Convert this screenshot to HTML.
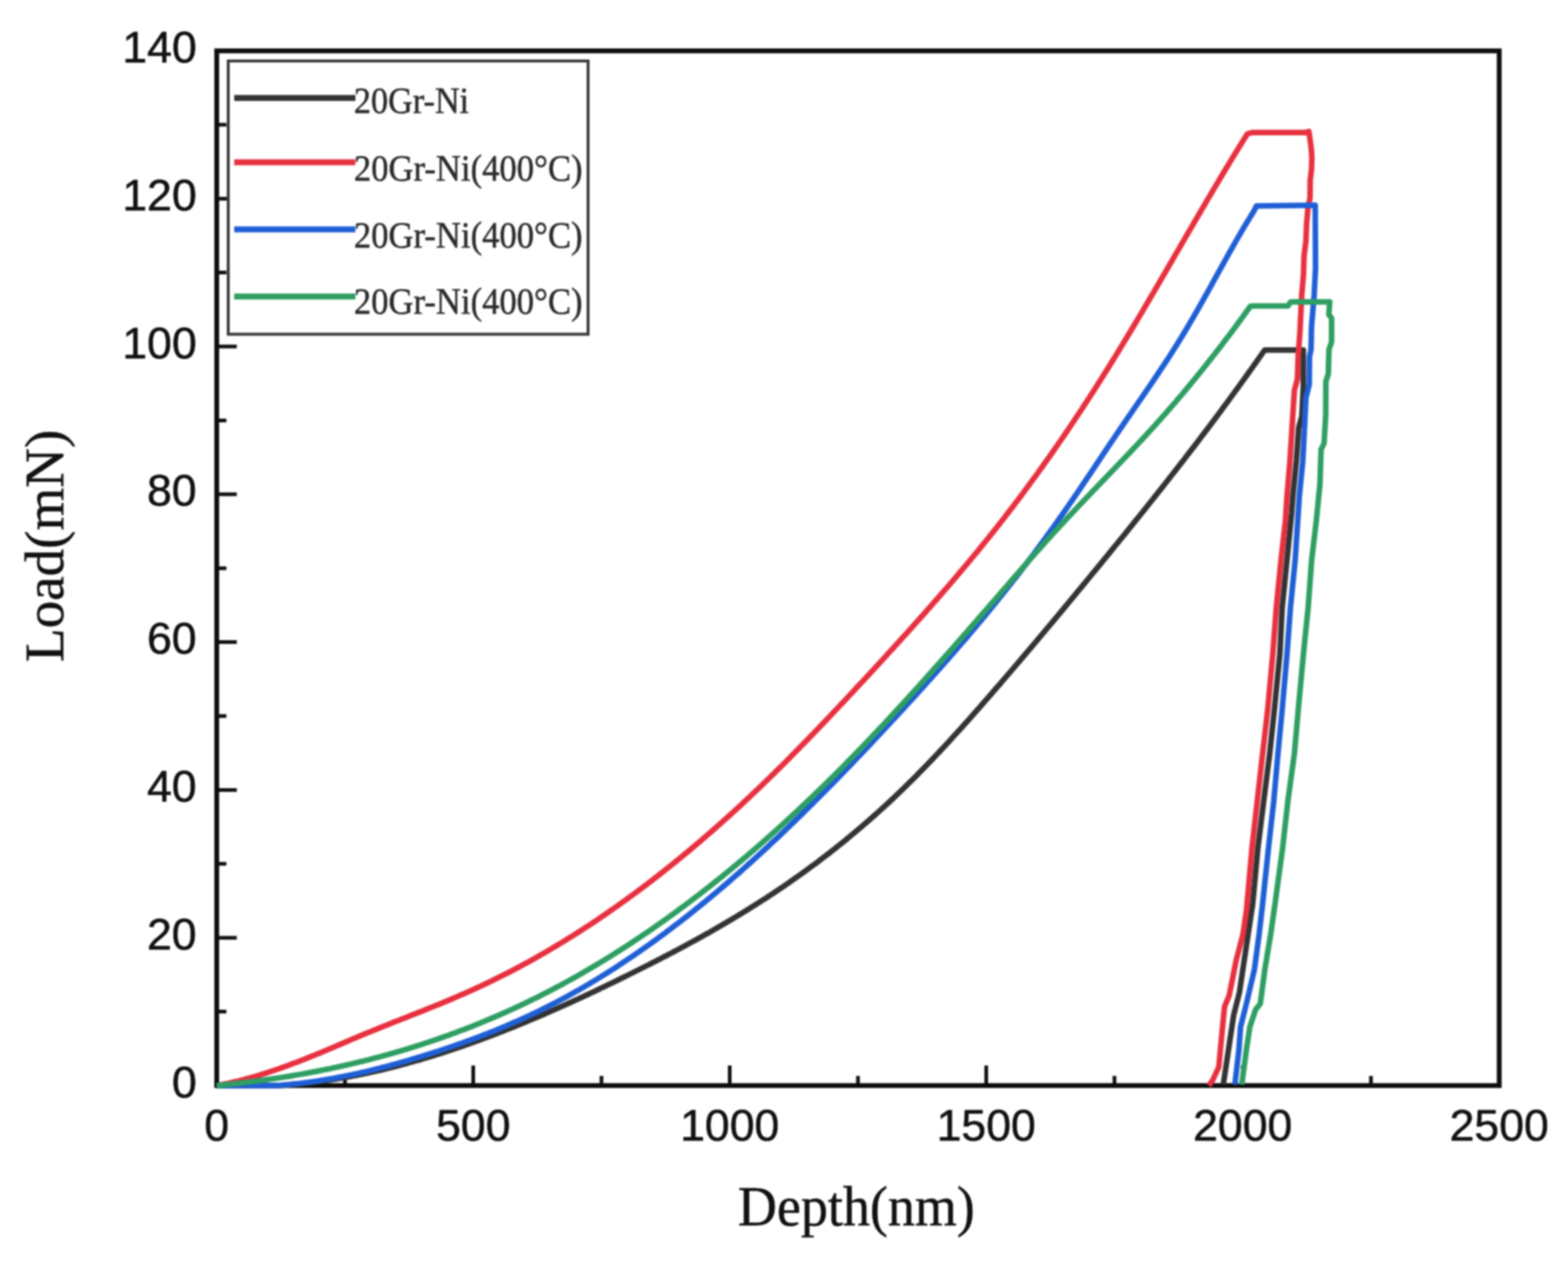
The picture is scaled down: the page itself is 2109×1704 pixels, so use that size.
<!DOCTYPE html>
<html><head><meta charset="utf-8"><title>Load-Depth</title>
<style>html,body{margin:0;padding:0;background:#fff;}svg{display:block;filter:blur(0.8px);}</style>
</head><body>
<svg width="2109" height="1704" viewBox="0 0 2109 1704">
<rect x="0" y="0" width="2109" height="1704" fill="#ffffff"/>
<path d="M464.0 1460.0 V1447.0 M636.5 1460.0 V1433.0 M809.0 1460.0 V1447.0 M981.5 1460.0 V1433.0 M1154.0 1460.0 V1447.0 M1326.5 1460.0 V1433.0 M1499.0 1460.0 V1447.0 M1671.5 1460.0 V1433.0 M1844.0 1460.0 V1447.0 M291.5 1360.6 H304.5 M291.5 1261.2 H318.5 M291.5 1161.8 H304.5 M291.5 1062.4 H318.5 M291.5 963.0 H304.5 M291.5 863.6 H318.5 M291.5 764.2 H304.5 M291.5 664.8 H318.5 M291.5 565.4 H304.5 M291.5 466.0 H318.5 M291.5 366.6 H304.5 M291.5 267.2 H318.5 M291.5 167.8 H304.5" stroke="#111" stroke-width="5" fill="none"/>
<rect x="291.5" y="68.4" width="1725.0" height="1391.6" fill="none" stroke="#0d0d0d" stroke-width="6.5"/>
<path d="M291.5 1460.0 L294.5 1460.0 L297.5 1460.0 L300.5 1460.0 L303.5 1460.0 L306.5 1460.0 L309.5 1460.0 L312.5 1460.0 L315.5 1460.0 L318.5 1460.0 L321.5 1460.0 L324.5 1460.0 L327.5 1460.0 L330.5 1460.0 L333.5 1460.0 L336.5 1460.0 L339.5 1460.0 L342.5 1460.0 L345.5 1460.0 L348.5 1460.0 L351.5 1460.0 L354.5 1460.0 L357.5 1460.0 L360.5 1460.0 L363.5 1460.0 L366.5 1460.0 L369.5 1460.0 L372.5 1460.0 L375.5 1459.9 L378.5 1459.7 L381.5 1459.5 L384.5 1459.3 L387.5 1459.0 L390.5 1458.8 L393.5 1458.5 L396.5 1458.3 L399.5 1458.0 L402.5 1457.7 L405.5 1457.4 L408.5 1457.1 L411.5 1456.7 L414.5 1456.4 L417.5 1456.0 L420.5 1455.7 L423.5 1455.3 L426.5 1454.9 L429.5 1454.5 L432.5 1454.1 L435.5 1453.7 L438.5 1453.2 L441.5 1452.8 L444.5 1452.3 L447.5 1451.9 L450.5 1451.4 L453.5 1450.9 L456.5 1450.4 L459.5 1449.9 L462.5 1449.3 L465.5 1448.8 L468.5 1448.3 L471.5 1447.7 L474.5 1447.1 L477.5 1446.6 L480.5 1446.0 L483.5 1445.4 L486.5 1444.8 L489.5 1444.1 L492.5 1443.5 L495.5 1442.9 L498.5 1442.2 L501.5 1441.5 L504.5 1440.9 L507.5 1440.2 L510.5 1439.5 L513.5 1438.8 L516.5 1438.1 L519.5 1437.3 L522.5 1436.6 L525.5 1435.9 L528.5 1435.1 L531.5 1434.3 L534.5 1433.6 L537.5 1432.8 L540.5 1432.0 L543.5 1431.2 L546.5 1430.4 L549.5 1429.5 L552.5 1428.7 L555.5 1427.9 L558.5 1427.0 L561.5 1426.2 L564.5 1425.3 L567.5 1424.4 L570.5 1423.5 L573.5 1422.6 L576.5 1421.7 L579.5 1420.8 L582.5 1419.9 L585.5 1418.9 L588.5 1418.0 L591.5 1417.1 L594.5 1416.1 L597.5 1415.1 L600.5 1414.2 L603.5 1413.2 L606.5 1412.2 L609.5 1411.2 L612.5 1410.2 L615.5 1409.2 L618.5 1408.1 L621.5 1407.1 L624.5 1406.1 L627.5 1405.0 L630.5 1404.0 L633.5 1402.9 L636.5 1401.8 L639.5 1400.7 L642.5 1399.6 L645.5 1398.6 L648.5 1397.4 L651.5 1396.3 L654.5 1395.2 L657.5 1394.1 L660.5 1393.0 L663.5 1391.8 L666.5 1390.7 L669.5 1389.5 L672.5 1388.3 L675.5 1387.2 L678.5 1386.0 L681.5 1384.8 L684.5 1383.6 L687.5 1382.4 L690.5 1381.2 L693.5 1380.0 L696.5 1378.8 L699.5 1377.6 L702.5 1376.3 L705.5 1375.1 L708.5 1373.9 L711.5 1372.6 L714.5 1371.3 L717.5 1370.1 L720.5 1368.8 L723.5 1367.5 L726.5 1366.3 L729.5 1365.0 L732.5 1363.7 L735.5 1362.4 L738.5 1361.1 L741.5 1359.7 L744.5 1358.4 L747.5 1357.1 L750.5 1355.8 L753.5 1354.4 L756.5 1353.1 L759.5 1351.7 L762.5 1350.4 L765.5 1349.0 L768.5 1347.7 L771.5 1346.3 L774.5 1344.9 L777.5 1343.6 L780.5 1342.2 L783.5 1340.8 L786.5 1339.4 L789.5 1338.0 L792.5 1336.6 L795.5 1335.2 L798.5 1333.8 L801.5 1332.3 L804.5 1330.9 L807.5 1329.5 L810.5 1328.0 L813.5 1326.6 L816.5 1325.2 L819.5 1323.7 L822.5 1322.3 L825.5 1320.8 L828.5 1319.4 L831.5 1317.9 L834.5 1316.4 L837.5 1314.9 L840.5 1313.5 L843.5 1312.0 L846.5 1310.5 L849.5 1309.0 L852.5 1307.5 L855.5 1306.0 L858.5 1304.5 L861.5 1303.0 L864.5 1301.5 L867.5 1300.0 L870.5 1298.5 L873.5 1297.0 L876.5 1295.4 L879.5 1293.9 L882.5 1292.4 L885.5 1290.8 L888.5 1289.3 L891.5 1287.7 L894.5 1286.2 L897.5 1284.6 L900.5 1283.0 L903.5 1281.5 L906.5 1279.9 L909.5 1278.3 L912.5 1276.7 L915.5 1275.1 L918.5 1273.5 L921.5 1271.9 L924.5 1270.3 L927.5 1268.6 L930.5 1267.0 L933.5 1265.4 L936.5 1263.7 L939.5 1262.1 L942.5 1260.4 L945.5 1258.7 L948.5 1257.0 L951.5 1255.4 L954.5 1253.7 L957.5 1252.0 L960.5 1250.2 L963.5 1248.5 L966.5 1246.8 L969.5 1245.1 L972.5 1243.3 L975.5 1241.6 L978.5 1239.8 L981.5 1238.0 L984.5 1236.2 L987.5 1234.4 L990.5 1232.6 L993.5 1230.8 L996.5 1229.0 L999.5 1227.2 L1002.5 1225.3 L1005.5 1223.5 L1008.5 1221.6 L1011.5 1219.7 L1014.5 1217.8 L1017.5 1216.0 L1020.5 1214.0 L1023.5 1212.1 L1026.5 1210.2 L1029.5 1208.3 L1032.5 1206.3 L1035.5 1204.3 L1038.5 1202.4 L1041.5 1200.4 L1044.5 1198.4 L1047.5 1196.4 L1050.5 1194.3 L1053.5 1192.3 L1056.5 1190.3 L1059.5 1188.2 L1062.5 1186.1 L1065.5 1184.0 L1068.5 1181.9 L1071.5 1179.8 L1074.5 1177.7 L1077.5 1175.5 L1080.5 1173.4 L1083.5 1171.2 L1086.5 1169.0 L1089.5 1166.8 L1092.5 1164.6 L1095.5 1162.4 L1098.5 1160.2 L1101.5 1157.9 L1104.5 1155.6 L1107.5 1153.3 L1110.5 1151.0 L1113.5 1148.7 L1116.5 1146.4 L1119.5 1144.1 L1122.5 1141.7 L1125.5 1139.3 L1128.5 1136.9 L1131.5 1134.5 L1134.5 1132.1 L1137.5 1129.7 L1140.5 1127.2 L1143.5 1124.7 L1146.5 1122.2 L1149.5 1119.7 L1152.5 1117.2 L1155.5 1114.7 L1158.5 1112.1 L1161.5 1109.5 L1164.5 1106.9 L1167.5 1104.3 L1170.5 1101.7 L1173.5 1099.1 L1176.5 1096.4 L1179.5 1093.7 L1182.5 1091.0 L1185.5 1088.3 L1188.5 1085.6 L1191.5 1082.8 L1194.5 1080.1 L1197.5 1077.3 L1200.5 1074.5 L1203.5 1071.6 L1206.5 1068.8 L1209.5 1065.9 L1212.5 1063.0 L1215.5 1060.1 L1218.5 1057.2 L1221.5 1054.2 L1224.5 1051.3 L1227.5 1048.3 L1230.5 1045.3 L1233.5 1042.3 L1236.5 1039.2 L1239.5 1036.2 L1242.5 1033.1 L1245.5 1030.0 L1248.5 1026.9 L1251.5 1023.8 L1254.5 1020.6 L1257.5 1017.5 L1260.5 1014.3 L1263.5 1011.1 L1266.5 1007.9 L1269.5 1004.7 L1272.5 1001.4 L1275.5 998.2 L1278.5 994.9 L1281.5 991.6 L1284.5 988.3 L1287.5 985.0 L1290.5 981.7 L1293.5 978.4 L1296.5 975.1 L1299.5 971.7 L1302.5 968.4 L1305.5 965.0 L1308.5 961.6 L1311.5 958.2 L1314.5 954.8 L1317.5 951.4 L1320.5 948.0 L1323.5 944.6 L1326.5 941.1 L1329.5 937.7 L1332.5 934.2 L1335.5 930.8 L1338.5 927.3 L1341.5 923.8 L1344.5 920.4 L1347.5 916.9 L1350.5 913.4 L1353.5 909.9 L1356.5 906.4 L1359.5 902.9 L1362.5 899.4 L1365.5 895.9 L1368.5 892.4 L1371.5 888.8 L1374.5 885.3 L1377.5 881.8 L1380.5 878.3 L1383.5 874.7 L1386.5 871.2 L1389.5 867.6 L1392.5 864.1 L1395.5 860.5 L1398.5 856.9 L1401.5 853.4 L1404.5 849.8 L1407.5 846.2 L1410.5 842.6 L1413.5 839.1 L1416.5 835.5 L1419.5 831.9 L1422.5 828.3 L1425.5 824.7 L1428.5 821.1 L1431.5 817.5 L1434.5 813.8 L1437.5 810.2 L1440.5 806.6 L1443.5 803.0 L1446.5 799.4 L1449.5 795.7 L1452.5 792.1 L1455.5 788.5 L1458.5 784.8 L1461.5 781.2 L1464.5 777.5 L1467.5 773.9 L1470.5 770.2 L1473.5 766.6 L1476.5 762.9 L1479.5 759.3 L1482.5 755.6 L1485.5 751.9 L1488.5 748.3 L1491.5 744.6 L1494.5 740.9 L1497.5 737.2 L1500.5 733.5 L1503.5 729.9 L1506.5 726.2 L1509.5 722.5 L1512.5 718.8 L1515.5 715.1 L1518.5 711.4 L1521.5 707.6 L1524.5 703.9 L1527.5 700.2 L1530.5 696.5 L1533.5 692.7 L1536.5 689.0 L1539.5 685.3 L1542.5 681.5 L1545.5 677.7 L1548.5 674.0 L1551.5 670.2 L1554.5 666.4 L1557.5 662.7 L1560.5 658.9 L1563.5 655.1 L1566.5 651.3 L1569.5 647.5 L1572.5 643.6 L1575.5 639.8 L1578.5 636.0 L1581.5 632.1 L1584.5 628.3 L1587.5 624.4 L1590.5 620.6 L1593.5 616.7 L1596.5 612.8 L1599.5 608.9 L1602.5 605.0 L1605.5 601.1 L1608.5 597.2 L1611.5 593.2 L1614.5 589.3 L1617.5 585.3 L1620.5 581.4 L1623.5 577.4 L1626.5 573.4 L1629.5 569.4 L1632.5 565.4 L1635.5 561.4 L1638.5 557.4 L1641.5 553.4 L1644.5 549.3 L1647.5 545.3 L1650.5 541.2 L1653.5 537.1 L1656.5 533.0 L1659.5 528.9 L1662.5 524.8 L1665.5 520.7 L1668.5 516.5 L1671.5 512.4 L1674.5 508.2 L1677.5 504.0 L1680.5 499.8 L1683.5 495.6 L1686.5 491.4 L1689.5 487.2 L1692.5 482.9 L1695.5 478.6 L1698.5 474.4 L1701.0 470.8 L1753.0 470.8 L1753.0 520.0 L1751.0 560.0 L1746.8 575.0 L1743.6 620.0 L1738.9 667.7 L1737.3 690.0 L1731.0 753.4 L1724.6 816.8 L1721.4 880.2 L1714.0 955.0 L1707.8 1013.4 L1699.8 1076.8 L1691.9 1140.2 L1685.0 1215.0 L1676.4 1272.2 L1667.1 1334.4 L1659.3 1365.5 L1654.6 1396.6 L1650.0 1427.7 L1645.3 1458.8" stroke="#333333" stroke-width="7.5" fill="none" stroke-linejoin="round" stroke-linecap="butt"/>
<path d="M291.5 1460.0 L294.5 1459.5 L297.5 1458.9 L300.5 1458.3 L303.5 1457.7 L306.5 1457.1 L309.5 1456.4 L312.5 1455.7 L315.5 1455.0 L318.5 1454.3 L321.5 1453.6 L324.5 1452.8 L327.5 1452.0 L330.5 1451.2 L333.5 1450.4 L336.5 1449.6 L339.5 1448.7 L342.5 1447.9 L345.5 1447.0 L348.5 1446.1 L351.5 1445.1 L354.5 1444.2 L357.5 1443.2 L360.5 1442.3 L363.5 1441.3 L366.5 1440.3 L369.5 1439.3 L372.5 1438.2 L375.5 1437.2 L378.5 1436.1 L381.5 1435.1 L384.5 1434.0 L387.5 1432.9 L390.5 1431.8 L393.5 1430.6 L396.5 1429.5 L399.5 1428.4 L402.5 1427.2 L405.5 1426.0 L408.5 1424.9 L411.5 1423.7 L414.5 1422.5 L417.5 1421.3 L420.5 1420.1 L423.5 1418.9 L426.5 1417.6 L429.5 1416.4 L432.5 1415.2 L435.5 1413.9 L438.5 1412.7 L441.5 1411.4 L444.5 1410.1 L447.5 1408.9 L450.5 1407.6 L453.5 1406.3 L456.5 1405.0 L459.5 1403.7 L462.5 1402.5 L465.5 1401.2 L468.5 1399.9 L471.5 1398.6 L474.5 1397.3 L477.5 1396.1 L480.5 1394.8 L483.5 1393.5 L486.5 1392.3 L489.5 1391.0 L492.5 1389.8 L495.5 1388.6 L498.5 1387.4 L501.5 1386.1 L504.5 1384.9 L507.5 1383.7 L510.5 1382.5 L513.5 1381.3 L516.5 1380.1 L519.5 1378.9 L522.5 1377.7 L525.5 1376.5 L528.5 1375.3 L531.5 1374.1 L534.5 1372.9 L537.5 1371.8 L540.5 1370.6 L543.5 1369.4 L546.5 1368.2 L549.5 1367.0 L552.5 1365.8 L555.5 1364.6 L558.5 1363.5 L561.5 1362.3 L564.5 1361.1 L567.5 1359.9 L570.5 1358.7 L573.5 1357.5 L576.5 1356.3 L579.5 1355.1 L582.5 1353.9 L585.5 1352.6 L588.5 1351.4 L591.5 1350.2 L594.5 1349.0 L597.5 1347.7 L600.5 1346.5 L603.5 1345.2 L606.5 1344.0 L609.5 1342.7 L612.5 1341.4 L615.5 1340.1 L618.5 1338.8 L621.5 1337.5 L624.5 1336.2 L627.5 1334.9 L630.5 1333.6 L633.5 1332.2 L636.5 1330.9 L639.5 1329.5 L642.5 1328.1 L645.5 1326.7 L648.5 1325.4 L651.5 1323.9 L654.5 1322.5 L657.5 1321.1 L660.5 1319.6 L663.5 1318.2 L666.5 1316.7 L669.5 1315.2 L672.5 1313.7 L675.5 1312.2 L678.5 1310.7 L681.5 1309.2 L684.5 1307.6 L687.5 1306.1 L690.5 1304.5 L693.5 1302.9 L696.5 1301.4 L699.5 1299.8 L702.5 1298.1 L705.5 1296.5 L708.5 1294.9 L711.5 1293.2 L714.5 1291.6 L717.5 1289.9 L720.5 1288.2 L723.5 1286.5 L726.5 1284.8 L729.5 1283.1 L732.5 1281.4 L735.5 1279.6 L738.5 1277.9 L741.5 1276.1 L744.5 1274.3 L747.5 1272.5 L750.5 1270.7 L753.5 1268.9 L756.5 1267.1 L759.5 1265.3 L762.5 1263.4 L765.5 1261.5 L768.5 1259.7 L771.5 1257.8 L774.5 1255.9 L777.5 1254.0 L780.5 1252.1 L783.5 1250.1 L786.5 1248.2 L789.5 1246.2 L792.5 1244.3 L795.5 1242.3 L798.5 1240.3 L801.5 1238.3 L804.5 1236.3 L807.5 1234.2 L810.5 1232.2 L813.5 1230.2 L816.5 1228.1 L819.5 1226.0 L822.5 1223.9 L825.5 1221.8 L828.5 1219.7 L831.5 1217.6 L834.5 1215.5 L837.5 1213.3 L840.5 1211.2 L843.5 1209.0 L846.5 1206.8 L849.5 1204.6 L852.5 1202.4 L855.5 1200.2 L858.5 1198.0 L861.5 1195.7 L864.5 1193.5 L867.5 1191.2 L870.5 1188.9 L873.5 1186.7 L876.5 1184.4 L879.5 1182.0 L882.5 1179.7 L885.5 1177.4 L888.5 1175.0 L891.5 1172.7 L894.5 1170.3 L897.5 1167.9 L900.5 1165.5 L903.5 1163.1 L906.5 1160.7 L909.5 1158.3 L912.5 1155.8 L915.5 1153.4 L918.5 1150.9 L921.5 1148.4 L924.5 1146.0 L927.5 1143.5 L930.5 1140.9 L933.5 1138.4 L936.5 1135.9 L939.5 1133.3 L942.5 1130.8 L945.5 1128.2 L948.5 1125.6 L951.5 1123.0 L954.5 1120.4 L957.5 1117.8 L960.5 1115.2 L963.5 1112.5 L966.5 1109.9 L969.5 1107.2 L972.5 1104.5 L975.5 1101.8 L978.5 1099.1 L981.5 1096.4 L984.5 1093.7 L987.5 1091.0 L990.5 1088.2 L993.5 1085.5 L996.5 1082.7 L999.5 1079.9 L1002.5 1077.1 L1005.5 1074.3 L1008.5 1071.5 L1011.5 1068.6 L1014.5 1065.8 L1017.5 1063.0 L1020.5 1060.1 L1023.5 1057.2 L1026.5 1054.3 L1029.5 1051.4 L1032.5 1048.5 L1035.5 1045.6 L1038.5 1042.6 L1041.5 1039.7 L1044.5 1036.7 L1047.5 1033.8 L1050.5 1030.8 L1053.5 1027.8 L1056.5 1024.8 L1059.5 1021.8 L1062.5 1018.8 L1065.5 1015.7 L1068.5 1012.7 L1071.5 1009.7 L1074.5 1006.6 L1077.5 1003.5 L1080.5 1000.5 L1083.5 997.4 L1086.5 994.3 L1089.5 991.2 L1092.5 988.1 L1095.5 985.0 L1098.5 981.9 L1101.5 978.7 L1104.5 975.6 L1107.5 972.4 L1110.5 969.3 L1113.5 966.1 L1116.5 963.0 L1119.5 959.8 L1122.5 956.6 L1125.5 953.5 L1128.5 950.3 L1131.5 947.1 L1134.5 943.9 L1137.5 940.7 L1140.5 937.5 L1143.5 934.3 L1146.5 931.1 L1149.5 927.9 L1152.5 924.6 L1155.5 921.4 L1158.5 918.2 L1161.5 914.9 L1164.5 911.7 L1167.5 908.5 L1170.5 905.2 L1173.5 902.0 L1176.5 898.7 L1179.5 895.5 L1182.5 892.2 L1185.5 888.9 L1188.5 885.7 L1191.5 882.4 L1194.5 879.1 L1197.5 875.8 L1200.5 872.6 L1203.5 869.3 L1206.5 866.0 L1209.5 862.7 L1212.5 859.3 L1215.5 856.0 L1218.5 852.7 L1221.5 849.4 L1224.5 846.0 L1227.5 842.7 L1230.5 839.3 L1233.5 836.0 L1236.5 832.6 L1239.5 829.2 L1242.5 825.9 L1245.5 822.5 L1248.5 819.1 L1251.5 815.7 L1254.5 812.3 L1257.5 808.8 L1260.5 805.4 L1263.5 802.0 L1266.5 798.5 L1269.5 795.1 L1272.5 791.6 L1275.5 788.1 L1278.5 784.6 L1281.5 781.1 L1284.5 777.6 L1287.5 774.1 L1290.5 770.5 L1293.5 767.0 L1296.5 763.4 L1299.5 759.9 L1302.5 756.3 L1305.5 752.7 L1308.5 749.0 L1311.5 745.4 L1314.5 741.8 L1317.5 738.1 L1320.5 734.4 L1323.5 730.7 L1326.5 727.0 L1329.5 723.3 L1332.5 719.5 L1335.5 715.8 L1338.5 712.0 L1341.5 708.2 L1344.5 704.4 L1347.5 700.5 L1350.5 696.7 L1353.5 692.8 L1356.5 688.9 L1359.5 685.0 L1362.5 681.1 L1365.5 677.1 L1368.5 673.2 L1371.5 669.2 L1374.5 665.2 L1377.5 661.1 L1380.5 657.1 L1383.5 653.0 L1386.5 648.9 L1389.5 644.8 L1392.5 640.7 L1395.5 636.6 L1398.5 632.4 L1401.5 628.2 L1404.5 624.0 L1407.5 619.8 L1410.5 615.6 L1413.5 611.3 L1416.5 607.0 L1419.5 602.7 L1422.5 598.4 L1425.5 594.0 L1428.5 589.7 L1431.5 585.3 L1434.5 580.9 L1437.5 576.5 L1440.5 572.0 L1443.5 567.5 L1446.5 563.0 L1449.5 558.5 L1452.5 554.0 L1455.5 549.5 L1458.5 544.9 L1461.5 540.3 L1464.5 535.7 L1467.5 531.0 L1470.5 526.4 L1473.5 521.7 L1476.5 517.0 L1479.5 512.3 L1482.5 507.5 L1485.5 502.8 L1488.5 498.0 L1491.5 493.2 L1494.5 488.3 L1497.5 483.5 L1500.5 478.6 L1503.5 473.7 L1506.5 468.8 L1509.5 463.9 L1512.5 458.9 L1515.5 454.0 L1518.5 449.0 L1521.5 444.0 L1524.5 439.0 L1527.5 434.0 L1530.5 428.9 L1533.5 423.9 L1536.5 418.8 L1539.5 413.7 L1542.5 408.6 L1545.5 403.5 L1548.5 398.4 L1551.5 393.3 L1554.5 388.2 L1557.5 383.0 L1560.5 377.9 L1563.5 372.7 L1566.5 367.6 L1569.5 362.4 L1572.5 357.2 L1575.5 352.1 L1578.5 346.9 L1581.5 341.7 L1584.5 336.6 L1587.5 331.4 L1590.5 326.2 L1593.5 321.0 L1596.5 315.9 L1599.5 310.7 L1602.5 305.6 L1605.5 300.4 L1608.5 295.3 L1611.5 290.1 L1614.5 285.0 L1617.5 279.9 L1620.5 274.8 L1623.5 269.7 L1626.5 264.6 L1629.5 259.5 L1632.5 254.4 L1635.5 249.4 L1638.5 244.3 L1641.5 239.3 L1644.5 234.3 L1647.5 229.3 L1650.5 224.3 L1653.5 219.4 L1656.5 214.4 L1659.5 209.5 L1662.5 204.6 L1665.5 199.7 L1668.5 194.9 L1671.5 190.1 L1674.5 185.3 L1677.5 180.5 L1677.8 180.0 L1684.0 178.3 L1755.0 178.3 L1760.5 176.8 L1761.8 186.0 L1763.5 198.0 L1764.5 212.0 L1764.0 228.0 L1762.3 242.0 L1762.0 266.0 L1759.0 282.0 L1757.5 300.0 L1756.5 324.0 L1754.0 344.0 L1753.2 370.0 L1751.0 395.0 L1749.7 420.0 L1748.5 445.0 L1746.0 480.0 L1745.0 510.0 L1741.0 525.0 L1738.0 572.6 L1735.0 620.0 L1731.0 667.7 L1729.0 700.0 L1723.0 753.4 L1716.7 816.8 L1711.9 880.2 L1705.0 955.0 L1698.3 1013.4 L1691.1 1076.8 L1684.0 1140.2 L1676.6 1223.7 L1671.8 1256.7 L1662.6 1292.0 L1653.3 1338.8 L1647.0 1354.0 L1644.0 1385.0 L1639.3 1435.0 L1631.0 1453.0 L1626.0 1460.0" stroke="#e8303f" stroke-width="7.5" fill="none" stroke-linejoin="round" stroke-linecap="butt"/>
<path d="M291.5 1460.0 L294.5 1460.0 L297.5 1460.0 L300.5 1460.0 L303.5 1460.0 L306.5 1460.0 L309.5 1460.0 L312.5 1460.0 L315.5 1460.0 L318.5 1460.0 L321.5 1460.0 L324.5 1460.0 L327.5 1460.0 L330.5 1460.0 L333.5 1460.0 L336.5 1460.0 L339.5 1460.0 L342.5 1460.0 L345.5 1460.0 L348.5 1460.0 L351.5 1460.0 L354.5 1460.0 L357.5 1460.0 L360.5 1460.0 L363.5 1460.0 L366.5 1460.0 L369.5 1460.0 L372.5 1460.0 L375.5 1459.7 L378.5 1459.5 L381.5 1459.3 L384.5 1459.0 L387.5 1458.7 L390.5 1458.4 L393.5 1458.1 L396.5 1457.8 L399.5 1457.5 L402.5 1457.2 L405.5 1456.8 L408.5 1456.4 L411.5 1456.0 L414.5 1455.6 L417.5 1455.2 L420.5 1454.8 L423.5 1454.4 L426.5 1453.9 L429.5 1453.5 L432.5 1453.0 L435.5 1452.5 L438.5 1452.0 L441.5 1451.5 L444.5 1451.0 L447.5 1450.4 L450.5 1449.9 L453.5 1449.3 L456.5 1448.8 L459.5 1448.2 L462.5 1447.6 L465.5 1447.0 L468.5 1446.4 L471.5 1445.8 L474.5 1445.1 L477.5 1444.5 L480.5 1443.8 L483.5 1443.1 L486.5 1442.5 L489.5 1441.8 L492.5 1441.1 L495.5 1440.4 L498.5 1439.7 L501.5 1438.9 L504.5 1438.2 L507.5 1437.4 L510.5 1436.7 L513.5 1435.9 L516.5 1435.1 L519.5 1434.3 L522.5 1433.6 L525.5 1432.7 L528.5 1431.9 L531.5 1431.1 L534.5 1430.3 L537.5 1429.4 L540.5 1428.6 L543.5 1427.7 L546.5 1426.9 L549.5 1426.0 L552.5 1425.1 L555.5 1424.2 L558.5 1423.3 L561.5 1422.4 L564.5 1421.5 L567.5 1420.6 L570.5 1419.7 L573.5 1418.7 L576.5 1417.8 L579.5 1416.9 L582.5 1415.9 L585.5 1414.9 L588.5 1414.0 L591.5 1413.0 L594.5 1412.0 L597.5 1411.0 L600.5 1410.0 L603.5 1409.0 L606.5 1408.0 L609.5 1407.0 L612.5 1405.9 L615.5 1404.9 L618.5 1403.8 L621.5 1402.8 L624.5 1401.7 L627.5 1400.6 L630.5 1399.5 L633.5 1398.4 L636.5 1397.3 L639.5 1396.2 L642.5 1395.1 L645.5 1393.9 L648.5 1392.8 L651.5 1391.6 L654.5 1390.4 L657.5 1389.3 L660.5 1388.1 L663.5 1386.9 L666.5 1385.7 L669.5 1384.4 L672.5 1383.2 L675.5 1382.0 L678.5 1380.7 L681.5 1379.4 L684.5 1378.1 L687.5 1376.8 L690.5 1375.5 L693.5 1374.2 L696.5 1372.9 L699.5 1371.6 L702.5 1370.2 L705.5 1368.8 L708.5 1367.4 L711.5 1366.1 L714.5 1364.6 L717.5 1363.2 L720.5 1361.8 L723.5 1360.3 L726.5 1358.9 L729.5 1357.4 L732.5 1355.9 L735.5 1354.4 L738.5 1352.9 L741.5 1351.4 L744.5 1349.8 L747.5 1348.3 L750.5 1346.7 L753.5 1345.1 L756.5 1343.5 L759.5 1341.9 L762.5 1340.2 L765.5 1338.6 L768.5 1336.9 L771.5 1335.3 L774.5 1333.6 L777.5 1331.9 L780.5 1330.2 L783.5 1328.4 L786.5 1326.7 L789.5 1324.9 L792.5 1323.2 L795.5 1321.4 L798.5 1319.6 L801.5 1317.8 L804.5 1315.9 L807.5 1314.1 L810.5 1312.2 L813.5 1310.4 L816.5 1308.5 L819.5 1306.6 L822.5 1304.7 L825.5 1302.8 L828.5 1300.8 L831.5 1298.9 L834.5 1296.9 L837.5 1294.9 L840.5 1292.9 L843.5 1290.9 L846.5 1288.9 L849.5 1286.9 L852.5 1284.9 L855.5 1282.8 L858.5 1280.7 L861.5 1278.6 L864.5 1276.5 L867.5 1274.4 L870.5 1272.3 L873.5 1270.2 L876.5 1268.0 L879.5 1265.9 L882.5 1263.7 L885.5 1261.5 L888.5 1259.3 L891.5 1257.1 L894.5 1254.9 L897.5 1252.6 L900.5 1250.4 L903.5 1248.1 L906.5 1245.8 L909.5 1243.5 L912.5 1241.2 L915.5 1238.9 L918.5 1236.6 L921.5 1234.2 L924.5 1231.9 L927.5 1229.5 L930.5 1227.1 L933.5 1224.7 L936.5 1222.3 L939.5 1219.9 L942.5 1217.5 L945.5 1215.0 L948.5 1212.6 L951.5 1210.1 L954.5 1207.6 L957.5 1205.1 L960.5 1202.6 L963.5 1200.1 L966.5 1197.6 L969.5 1195.0 L972.5 1192.5 L975.5 1189.9 L978.5 1187.3 L981.5 1184.8 L984.5 1182.2 L987.5 1179.5 L990.5 1176.9 L993.5 1174.3 L996.5 1171.6 L999.5 1169.0 L1002.5 1166.3 L1005.5 1163.6 L1008.5 1160.9 L1011.5 1158.2 L1014.5 1155.5 L1017.5 1152.8 L1020.5 1150.0 L1023.5 1147.3 L1026.5 1144.5 L1029.5 1141.7 L1032.5 1138.9 L1035.5 1136.1 L1038.5 1133.3 L1041.5 1130.5 L1044.5 1127.7 L1047.5 1124.9 L1050.5 1122.0 L1053.5 1119.2 L1056.5 1116.3 L1059.5 1113.4 L1062.5 1110.5 L1065.5 1107.6 L1068.5 1104.7 L1071.5 1101.8 L1074.5 1098.9 L1077.5 1096.0 L1080.5 1093.0 L1083.5 1090.1 L1086.5 1087.1 L1089.5 1084.1 L1092.5 1081.2 L1095.5 1078.2 L1098.5 1075.2 L1101.5 1072.2 L1104.5 1069.2 L1107.5 1066.1 L1110.5 1063.1 L1113.5 1060.1 L1116.5 1057.0 L1119.5 1054.0 L1122.5 1050.9 L1125.5 1047.8 L1128.5 1044.8 L1131.5 1041.7 L1134.5 1038.6 L1137.5 1035.5 L1140.5 1032.4 L1143.5 1029.3 L1146.5 1026.1 L1149.5 1023.0 L1152.5 1019.9 L1155.5 1016.7 L1158.5 1013.6 L1161.5 1010.4 L1164.5 1007.3 L1167.5 1004.1 L1170.5 1000.9 L1173.5 997.7 L1176.5 994.5 L1179.5 991.3 L1182.5 988.1 L1185.5 984.9 L1188.5 981.7 L1191.5 978.5 L1194.5 975.3 L1197.5 972.0 L1200.5 968.8 L1203.5 965.6 L1206.5 962.3 L1209.5 959.1 L1212.5 955.8 L1215.5 952.6 L1218.5 949.3 L1221.5 946.0 L1224.5 942.7 L1227.5 939.4 L1230.5 936.2 L1233.5 932.9 L1236.5 929.6 L1239.5 926.2 L1242.5 922.9 L1245.5 919.6 L1248.5 916.3 L1251.5 912.9 L1254.5 909.6 L1257.5 906.2 L1260.5 902.8 L1263.5 899.5 L1266.5 896.1 L1269.5 892.7 L1272.5 889.3 L1275.5 885.9 L1278.5 882.4 L1281.5 879.0 L1284.5 875.6 L1287.5 872.1 L1290.5 868.6 L1293.5 865.1 L1296.5 861.7 L1299.5 858.2 L1302.5 854.6 L1305.5 851.1 L1308.5 847.6 L1311.5 844.0 L1314.5 840.4 L1317.5 836.9 L1320.5 833.3 L1323.5 829.6 L1326.5 826.0 L1329.5 822.4 L1332.5 818.7 L1335.5 815.1 L1338.5 811.4 L1341.5 807.7 L1344.5 804.0 L1347.5 800.2 L1350.5 796.5 L1353.5 792.7 L1356.5 788.9 L1359.5 785.1 L1362.5 781.3 L1365.5 777.5 L1368.5 773.6 L1371.5 769.8 L1374.5 765.9 L1377.5 762.0 L1380.5 758.0 L1383.5 754.1 L1386.5 750.1 L1389.5 746.2 L1392.5 742.1 L1395.5 738.1 L1398.5 734.1 L1401.5 730.0 L1404.5 725.9 L1407.5 721.8 L1410.5 717.7 L1413.5 713.5 L1416.5 709.4 L1419.5 705.2 L1422.5 701.0 L1425.5 696.7 L1428.5 692.5 L1431.5 688.2 L1434.5 683.9 L1437.5 679.5 L1440.5 675.2 L1443.5 670.8 L1446.5 666.4 L1449.5 662.0 L1452.5 657.6 L1455.5 653.2 L1458.5 648.7 L1461.5 644.2 L1464.5 639.8 L1467.5 635.3 L1470.5 630.8 L1473.5 626.3 L1476.5 621.8 L1479.5 617.3 L1482.5 612.9 L1485.5 608.4 L1488.5 603.9 L1491.5 599.4 L1494.5 594.9 L1497.5 590.5 L1500.5 586.0 L1503.5 581.6 L1506.5 577.2 L1509.5 572.8 L1512.5 568.4 L1515.5 564.0 L1518.5 559.6 L1521.5 555.3 L1524.5 550.9 L1527.5 546.6 L1530.5 542.2 L1533.5 537.9 L1536.5 533.6 L1539.5 529.2 L1542.5 524.8 L1545.5 520.4 L1548.5 516.1 L1551.5 511.6 L1554.5 507.2 L1557.5 502.7 L1560.5 498.2 L1563.5 493.7 L1566.5 489.2 L1569.5 484.6 L1572.5 480.0 L1575.5 475.3 L1578.5 470.6 L1581.5 465.8 L1584.5 461.0 L1587.5 456.1 L1590.5 451.2 L1593.5 446.2 L1596.5 441.2 L1599.5 436.1 L1602.5 431.0 L1605.5 425.9 L1608.5 420.7 L1611.5 415.4 L1614.5 410.1 L1617.5 404.8 L1620.5 399.4 L1623.5 394.1 L1626.5 388.7 L1629.5 383.2 L1632.5 377.8 L1635.5 372.4 L1638.5 366.9 L1641.5 361.5 L1644.5 356.1 L1647.5 350.7 L1650.5 345.3 L1653.5 339.9 L1656.5 334.6 L1659.5 329.3 L1662.5 324.0 L1665.5 318.8 L1668.5 313.6 L1671.5 308.5 L1674.5 303.5 L1677.5 298.5 L1680.5 293.6 L1683.5 288.7 L1686.5 284.0 L1686.6 283.8 L1690.0 277.0 L1769.0 276.0 L1769.4 361.0 L1767.6 396.5 L1764.0 440.0 L1763.4 470.0 L1761.3 480.0 L1761.0 517.0 L1756.5 535.0 L1754.7 572.6 L1752.3 620.0 L1747.6 667.7 L1745.5 700.0 L1742.0 753.4 L1735.7 816.8 L1731.0 880.2 L1724.5 955.0 L1718.9 1013.4 L1713.3 1076.8 L1706.2 1140.2 L1698.3 1215.0 L1693.5 1256.7 L1687.3 1303.3 L1676.4 1350.0 L1668.6 1381.0 L1666.3 1412.2 L1660.9 1458.8" stroke="#1f5fd6" stroke-width="7.5" fill="none" stroke-linejoin="round" stroke-linecap="butt"/>
<path d="M291.5 1460.0 L294.5 1459.7 L297.5 1459.4 L300.5 1459.1 L303.5 1458.8 L306.5 1458.5 L309.5 1458.2 L312.5 1457.8 L315.5 1457.5 L318.5 1457.2 L321.5 1456.8 L324.5 1456.5 L327.5 1456.1 L330.5 1455.8 L333.5 1455.4 L336.5 1455.0 L339.5 1454.6 L342.5 1454.2 L345.5 1453.9 L348.5 1453.5 L351.5 1453.0 L354.5 1452.6 L357.5 1452.2 L360.5 1451.8 L363.5 1451.4 L366.5 1450.9 L369.5 1450.5 L372.5 1450.0 L375.5 1449.6 L378.5 1449.1 L381.5 1448.6 L384.5 1448.1 L387.5 1447.7 L390.5 1447.2 L393.5 1446.7 L396.5 1446.1 L399.5 1445.6 L402.5 1445.1 L405.5 1444.6 L408.5 1444.1 L411.5 1443.5 L414.5 1443.0 L417.5 1442.4 L420.5 1441.8 L423.5 1441.3 L426.5 1440.7 L429.5 1440.1 L432.5 1439.5 L435.5 1438.9 L438.5 1438.3 L441.5 1437.7 L444.5 1437.1 L447.5 1436.4 L450.5 1435.8 L453.5 1435.1 L456.5 1434.5 L459.5 1433.8 L462.5 1433.2 L465.5 1432.5 L468.5 1431.8 L471.5 1431.1 L474.5 1430.4 L477.5 1429.7 L480.5 1429.0 L483.5 1428.2 L486.5 1427.5 L489.5 1426.8 L492.5 1426.0 L495.5 1425.3 L498.5 1424.5 L501.5 1423.7 L504.5 1422.9 L507.5 1422.1 L510.5 1421.3 L513.5 1420.5 L516.5 1419.7 L519.5 1418.9 L522.5 1418.1 L525.5 1417.2 L528.5 1416.4 L531.5 1415.5 L534.5 1414.6 L537.5 1413.8 L540.5 1412.9 L543.5 1412.0 L546.5 1411.1 L549.5 1410.2 L552.5 1409.2 L555.5 1408.3 L558.5 1407.4 L561.5 1406.4 L564.5 1405.5 L567.5 1404.5 L570.5 1403.5 L573.5 1402.5 L576.5 1401.6 L579.5 1400.5 L582.5 1399.5 L585.5 1398.5 L588.5 1397.5 L591.5 1396.4 L594.5 1395.4 L597.5 1394.3 L600.5 1393.3 L603.5 1392.2 L606.5 1391.1 L609.5 1390.0 L612.5 1388.9 L615.5 1387.8 L618.5 1386.6 L621.5 1385.5 L624.5 1384.4 L627.5 1383.2 L630.5 1382.0 L633.5 1380.9 L636.5 1379.7 L639.5 1378.5 L642.5 1377.3 L645.5 1376.1 L648.5 1374.8 L651.5 1373.6 L654.5 1372.3 L657.5 1371.1 L660.5 1369.8 L663.5 1368.5 L666.5 1367.3 L669.5 1366.0 L672.5 1364.6 L675.5 1363.3 L678.5 1362.0 L681.5 1360.7 L684.5 1359.3 L687.5 1357.9 L690.5 1356.6 L693.5 1355.2 L696.5 1353.8 L699.5 1352.4 L702.5 1351.0 L705.5 1349.5 L708.5 1348.1 L711.5 1346.7 L714.5 1345.2 L717.5 1343.7 L720.5 1342.3 L723.5 1340.8 L726.5 1339.3 L729.5 1337.7 L732.5 1336.2 L735.5 1334.7 L738.5 1333.1 L741.5 1331.6 L744.5 1330.0 L747.5 1328.4 L750.5 1326.8 L753.5 1325.2 L756.5 1323.6 L759.5 1322.0 L762.5 1320.3 L765.5 1318.7 L768.5 1317.0 L771.5 1315.4 L774.5 1313.7 L777.5 1312.0 L780.5 1310.3 L783.5 1308.5 L786.5 1306.8 L789.5 1305.1 L792.5 1303.3 L795.5 1301.6 L798.5 1299.8 L801.5 1298.0 L804.5 1296.2 L807.5 1294.4 L810.5 1292.6 L813.5 1290.8 L816.5 1288.9 L819.5 1287.1 L822.5 1285.2 L825.5 1283.3 L828.5 1281.4 L831.5 1279.5 L834.5 1277.6 L837.5 1275.7 L840.5 1273.8 L843.5 1271.8 L846.5 1269.9 L849.5 1267.9 L852.5 1265.9 L855.5 1263.9 L858.5 1261.9 L861.5 1259.9 L864.5 1257.9 L867.5 1255.9 L870.5 1253.8 L873.5 1251.8 L876.5 1249.7 L879.5 1247.6 L882.5 1245.5 L885.5 1243.4 L888.5 1241.3 L891.5 1239.2 L894.5 1237.1 L897.5 1234.9 L900.5 1232.8 L903.5 1230.6 L906.5 1228.4 L909.5 1226.2 L912.5 1224.0 L915.5 1221.8 L918.5 1219.6 L921.5 1217.4 L924.5 1215.1 L927.5 1212.9 L930.5 1210.6 L933.5 1208.3 L936.5 1206.0 L939.5 1203.7 L942.5 1201.4 L945.5 1199.1 L948.5 1196.8 L951.5 1194.4 L954.5 1192.1 L957.5 1189.7 L960.5 1187.3 L963.5 1184.9 L966.5 1182.5 L969.5 1180.1 L972.5 1177.7 L975.5 1175.2 L978.5 1172.8 L981.5 1170.3 L984.5 1167.9 L987.5 1165.4 L990.5 1162.9 L993.5 1160.4 L996.5 1157.9 L999.5 1155.4 L1002.5 1152.8 L1005.5 1150.3 L1008.5 1147.7 L1011.5 1145.2 L1014.5 1142.6 L1017.5 1140.0 L1020.5 1137.4 L1023.5 1134.8 L1026.5 1132.1 L1029.5 1129.5 L1032.5 1126.9 L1035.5 1124.2 L1038.5 1121.5 L1041.5 1118.9 L1044.5 1116.2 L1047.5 1113.5 L1050.5 1110.8 L1053.5 1108.0 L1056.5 1105.3 L1059.5 1102.5 L1062.5 1099.8 L1065.5 1097.0 L1068.5 1094.2 L1071.5 1091.5 L1074.5 1088.7 L1077.5 1085.8 L1080.5 1083.0 L1083.5 1080.2 L1086.5 1077.3 L1089.5 1074.5 L1092.5 1071.6 L1095.5 1068.7 L1098.5 1065.8 L1101.5 1062.9 L1104.5 1060.0 L1107.5 1057.1 L1110.5 1054.2 L1113.5 1051.2 L1116.5 1048.3 L1119.5 1045.3 L1122.5 1042.3 L1125.5 1039.3 L1128.5 1036.3 L1131.5 1033.3 L1134.5 1030.3 L1137.5 1027.3 L1140.5 1024.2 L1143.5 1021.2 L1146.5 1018.1 L1149.5 1015.0 L1152.5 1012.0 L1155.5 1008.9 L1158.5 1005.8 L1161.5 1002.6 L1164.5 999.5 L1167.5 996.4 L1170.5 993.2 L1173.5 990.1 L1176.5 986.9 L1179.5 983.7 L1182.5 980.5 L1185.5 977.4 L1188.5 974.2 L1191.5 970.9 L1194.5 967.7 L1197.5 964.5 L1200.5 961.3 L1203.5 958.0 L1206.5 954.8 L1209.5 951.5 L1212.5 948.2 L1215.5 945.0 L1218.5 941.7 L1221.5 938.4 L1224.5 935.1 L1227.5 931.8 L1230.5 928.5 L1233.5 925.2 L1236.5 921.9 L1239.5 918.5 L1242.5 915.2 L1245.5 911.9 L1248.5 908.5 L1251.5 905.2 L1254.5 901.8 L1257.5 898.4 L1260.5 895.1 L1263.5 891.7 L1266.5 888.3 L1269.5 884.9 L1272.5 881.6 L1275.5 878.2 L1278.5 874.8 L1281.5 871.4 L1284.5 868.0 L1287.5 864.6 L1290.5 861.1 L1293.5 857.7 L1296.5 854.3 L1299.5 850.9 L1302.5 847.5 L1305.5 844.0 L1308.5 840.6 L1311.5 837.2 L1314.5 833.7 L1317.5 830.3 L1320.5 826.8 L1323.5 823.4 L1326.5 820.0 L1329.5 816.5 L1332.5 813.1 L1335.5 809.6 L1338.5 806.2 L1341.5 802.7 L1344.5 799.2 L1347.5 795.8 L1350.5 792.3 L1353.5 788.9 L1356.5 785.4 L1359.5 782.0 L1362.5 778.5 L1365.5 775.1 L1368.5 771.6 L1371.5 768.2 L1374.5 764.7 L1377.5 761.3 L1380.5 757.9 L1383.5 754.5 L1386.5 751.1 L1389.5 747.7 L1392.5 744.3 L1395.5 740.9 L1398.5 737.5 L1401.5 734.2 L1404.5 730.8 L1407.5 727.5 L1410.5 724.2 L1413.5 720.9 L1416.5 717.6 L1419.5 714.3 L1422.5 711.0 L1425.5 707.8 L1428.5 704.5 L1431.5 701.3 L1434.5 698.0 L1437.5 694.8 L1440.5 691.6 L1443.5 688.4 L1446.5 685.2 L1449.5 682.0 L1452.5 678.8 L1455.5 675.7 L1458.5 672.5 L1461.5 669.4 L1464.5 666.2 L1467.5 663.1 L1470.5 659.9 L1473.5 656.8 L1476.5 653.7 L1479.5 650.6 L1482.5 647.4 L1485.5 644.3 L1488.5 641.2 L1491.5 638.1 L1494.5 634.9 L1497.5 631.8 L1500.5 628.7 L1503.5 625.5 L1506.5 622.4 L1509.5 619.2 L1512.5 616.1 L1515.5 612.9 L1518.5 609.8 L1521.5 606.6 L1524.5 603.4 L1527.5 600.2 L1530.5 597.0 L1533.5 593.8 L1536.5 590.6 L1539.5 587.3 L1542.5 584.1 L1545.5 580.8 L1548.5 577.5 L1551.5 574.2 L1554.5 570.9 L1557.5 567.5 L1560.5 564.2 L1563.5 560.8 L1566.5 557.4 L1569.5 554.0 L1572.5 550.6 L1575.5 547.1 L1578.5 543.6 L1581.5 540.2 L1584.5 536.6 L1587.5 533.1 L1590.5 529.6 L1593.5 526.0 L1596.5 522.4 L1599.5 518.8 L1602.5 515.2 L1605.5 511.5 L1608.5 507.9 L1611.5 504.2 L1614.5 500.5 L1617.5 496.7 L1620.5 493.0 L1623.5 489.2 L1626.5 485.4 L1629.5 481.6 L1632.5 477.8 L1635.5 473.9 L1638.5 470.1 L1641.5 466.2 L1644.5 462.3 L1647.5 458.3 L1650.5 454.4 L1653.5 450.4 L1656.5 446.4 L1659.5 442.4 L1662.5 438.4 L1665.5 434.3 L1668.5 430.2 L1671.5 426.1 L1674.5 422.0 L1677.5 417.8 L1680.5 413.7 L1681.7 412.0 L1686.0 411.4 L1732.4 411.4 L1736.0 406.0 L1788.5 406.0 L1787.3 423.0 L1791.0 428.0 L1791.0 460.0 L1787.5 470.0 L1786.6 503.0 L1783.3 513.0 L1783.2 556.8 L1780.9 596.4 L1776.9 604.3 L1775.3 651.9 L1770.5 700.0 L1764.2 753.4 L1759.5 816.8 L1753.1 880.2 L1746.6 950.0 L1741.0 1013.4 L1732.3 1076.8 L1725.2 1140.2 L1715.0 1215.0 L1709.1 1256.7 L1701.3 1303.3 L1695.1 1350.0 L1688.9 1357.7 L1681.1 1381.0 L1676.4 1412.2 L1670.2 1458.8" stroke="#2e9e62" stroke-width="7.5" fill="none" stroke-linejoin="round" stroke-linecap="butt"/>
<rect x="307" y="82" width="484" height="367.5" fill="#fff" stroke="#3a3a3a" stroke-width="4"/>
<path d="M315 131.8 H478" stroke="#333333" stroke-width="8" fill="none"/>
<text x="476" y="152.5" font-family="Liberation Serif, serif" font-size="50" fill="#2a2a2a" stroke="#2a2a2a" stroke-width="0.6" transform="translate(476 0) scale(0.92 1) translate(-476 0)">20Gr-Ni</text>
<path d="M315 218.2 H478" stroke="#e8303f" stroke-width="8" fill="none"/>
<text x="476" y="242.7" font-family="Liberation Serif, serif" font-size="50" fill="#2a2a2a" stroke="#2a2a2a" stroke-width="0.6" transform="translate(476 0) scale(0.932 1) translate(-476 0)">20Gr-Ni(400°C)</text>
<path d="M315 308.6 H478" stroke="#1f5fd6" stroke-width="8" fill="none"/>
<text x="476" y="333.5" font-family="Liberation Serif, serif" font-size="50" fill="#2a2a2a" stroke="#2a2a2a" stroke-width="0.6" transform="translate(476 0) scale(0.932 1) translate(-476 0)">20Gr-Ni(400°C)</text>
<path d="M315 398.8 H478" stroke="#2e9e62" stroke-width="8" fill="none"/>
<text x="476" y="422.5" font-family="Liberation Serif, serif" font-size="50" fill="#2a2a2a" stroke="#2a2a2a" stroke-width="0.6" transform="translate(476 0) scale(0.932 1) translate(-476 0)">20Gr-Ni(400°C)</text>
<text x="264.5" y="1475.5" font-family="Liberation Sans, sans-serif" font-size="60" fill="#111" stroke="#111" stroke-width="0.7" text-anchor="end">0</text>
<text x="264.5" y="1276.7" font-family="Liberation Sans, sans-serif" font-size="60" fill="#111" stroke="#111" stroke-width="0.7" text-anchor="end">20</text>
<text x="264.5" y="1077.9" font-family="Liberation Sans, sans-serif" font-size="60" fill="#111" stroke="#111" stroke-width="0.7" text-anchor="end">40</text>
<text x="264.5" y="879.1" font-family="Liberation Sans, sans-serif" font-size="60" fill="#111" stroke="#111" stroke-width="0.7" text-anchor="end">60</text>
<text x="264.5" y="680.3" font-family="Liberation Sans, sans-serif" font-size="60" fill="#111" stroke="#111" stroke-width="0.7" text-anchor="end">80</text>
<text x="264.5" y="481.5" font-family="Liberation Sans, sans-serif" font-size="60" fill="#111" stroke="#111" stroke-width="0.7" text-anchor="end">100</text>
<text x="264.5" y="282.7" font-family="Liberation Sans, sans-serif" font-size="60" fill="#111" stroke="#111" stroke-width="0.7" text-anchor="end">120</text>
<text x="264.5" y="83.9" font-family="Liberation Sans, sans-serif" font-size="60" fill="#111" stroke="#111" stroke-width="0.7" text-anchor="end">140</text>
<text x="291.5" y="1534" font-family="Liberation Sans, sans-serif" font-size="60" fill="#111" stroke="#111" stroke-width="0.7" text-anchor="middle">0</text>
<text x="636.5" y="1534" font-family="Liberation Sans, sans-serif" font-size="60" fill="#111" stroke="#111" stroke-width="0.7" text-anchor="middle">500</text>
<text x="981.5" y="1534" font-family="Liberation Sans, sans-serif" font-size="60" fill="#111" stroke="#111" stroke-width="0.7" text-anchor="middle">1000</text>
<text x="1326.5" y="1534" font-family="Liberation Sans, sans-serif" font-size="60" fill="#111" stroke="#111" stroke-width="0.7" text-anchor="middle">1500</text>
<text x="1671.5" y="1534" font-family="Liberation Sans, sans-serif" font-size="60" fill="#111" stroke="#111" stroke-width="0.7" text-anchor="middle">2000</text>
<text x="2016.5" y="1534" font-family="Liberation Sans, sans-serif" font-size="60" fill="#111" stroke="#111" stroke-width="0.7" text-anchor="middle">2500</text>
<text x="1151.8" y="1648.3" font-family="Liberation Serif, serif" font-size="76" fill="#111" stroke="#111" stroke-width="0.6" text-anchor="middle" transform="translate(1151.8 0) scale(0.956 1) translate(-1151.8 0)">Depth(nm)</text>
<text transform="translate(84.5 734) rotate(-90)" x="0" y="0" font-family="Liberation Serif, serif" font-size="74" fill="#111" stroke="#111" stroke-width="0.6" text-anchor="middle">Load(mN)</text>
</svg>
</body></html>
